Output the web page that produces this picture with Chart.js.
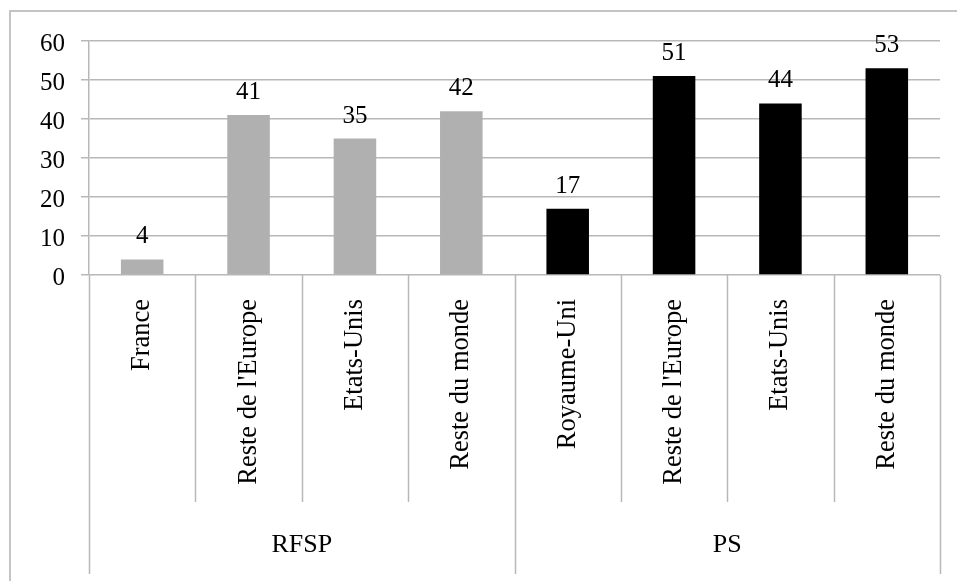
<!DOCTYPE html>
<html>
<head>
<meta charset="utf-8">
<script src="https://cdn.jsdelivr.net/npm/chart.js@4"></script>
<style>
  html, body { margin: 0; padding: 0; background: #fff; overflow: hidden; }
  #frame { position: absolute; left: 9px; top: 10px; width: 1000px; height: 700px; border: 2px solid #c4c4c4; }
  #wrap { position: absolute; left: 0; top: 0; width: 957px; height: 581px; }
</style>
</head>
<body>
<div id="frame"></div>
<div id="wrap"><canvas id="chart" width="957" height="581"></canvas></div>
<script>
// data
const categories = ["France", "Reste de l'Europe", "Etats-Unis", "Reste du monde",
                    "Royaume-Uni", "Reste de l'Europe", "Etats-Unis", "Reste du monde"];
const values = [4, 41, 35, 42, 17, 51, 44, 53];
const groupNames = ["RFSP", "PS"];
const groupSizes = [4, 4];
const groupColors = ["#b0b0b0", "#000000"];
const yTicks = [0, 10, 20, 30, 40, 50, 60];

const FONT = "'Liberation Serif', 'Times New Roman', serif";
const LINE = "#b8b8b8";

// one colour per bar, following its group
const barColors = [];
groupSizes.forEach((n, g) => { for (let i = 0; i < n; i++) barColors.push(groupColors[g]); });

// value labels above bars + multi-level category axis dividers
const excelAxis = {
    id: 'excelAxis',
    afterDatasetsDraw(chart) {
        const ctx = chart.ctx;
        const meta = chart.getDatasetMeta(0);
        ctx.save();
        ctx.fillStyle = '#000';
        ctx.font = '25px ' + FONT;
        ctx.textAlign = 'center';
        ctx.textBaseline = 'alphabetic';
        meta.data.forEach((bar, i) => {
            ctx.fillText(String(values[i]), bar.x, bar.y - 16);
        });
        ctx.restore();
    },
    afterDraw(chart) {
        const ctx = chart.ctx;
        const x = chart.scales.x;
        const area = chart.chartArea;
        const step = (x.getPixelForValue(1) - x.getPixelForValue(0));
        const edge = i => x.getPixelForValue(i) - step / 2;
        const innerBottom = 502, outerBottom = 574;

        ctx.save();
        ctx.strokeStyle = LINE;
        ctx.lineWidth = 1.5;
        let start = 0;
        const groupEdges = [0];
        groupSizes.forEach(n => { start += n; groupEdges.push(start); });
        for (let i = 0; i <= categories.length; i++) {
            const px = Math.round(edge(i)) + 0.5;
            const bottom = groupEdges.includes(i) ? outerBottom : innerBottom;
            ctx.beginPath();
            ctx.moveTo(px, area.bottom);
            ctx.lineTo(px, bottom);
            ctx.stroke();
        }

        ctx.fillStyle = '#000';
        ctx.font = '26px ' + FONT;
        ctx.textAlign = 'center';
        ctx.textBaseline = 'middle';
        groupNames.forEach((name, g) => {
            const cx = (edge(groupEdges[g]) + edge(groupEdges[g + 1])) / 2;
            ctx.fillText(name, cx, 545);
        });
        ctx.restore();
    }
};

new Chart(document.getElementById('chart'), {
    type: 'bar',
    data: {
        labels: categories,
        datasets: [{
            data: values,
            backgroundColor: barColors,
            borderWidth: 0,
            categoryPercentage: 1.0,
            barPercentage: 0.4
        }]
    },
    options: {
        responsive: false,
        animation: false,
        layout: { padding: { top: 41, right: 17, bottom: 6, left: 0 } },
        plugins: {
            legend: { display: false },
            tooltip: { enabled: false }
        },
        scales: {
            x: {
                grid: { display: false, drawTicks: false },
                border: { display: false },
                ticks: {
                    autoSkip: false,
                    minRotation: 90,
                    maxRotation: 90,
                    padding: 24,
                    color: '#000',
                    font: { family: FONT, size: 26.5 }
                },
                afterFit(scale) { scale.height = 300; }
            },
            y: {
                min: 0,
                max: 60,
                afterBuildTicks(scale) { scale.ticks = yTicks.map(v => ({ value: v })); },
                grid: { color: LINE, lineWidth: 1.5, tickLength: 8 },
                border: { color: LINE, width: 1.5 },
                ticks: {
                    padding: 16,
                    labelOffset: 3,
                    color: '#000',
                    font: { family: FONT, size: 25 }
                },
                afterFit(scale) { scale.width = 89; }
            }
        }
    },
    plugins: [excelAxis]
});
</script>
</body>
</html>
